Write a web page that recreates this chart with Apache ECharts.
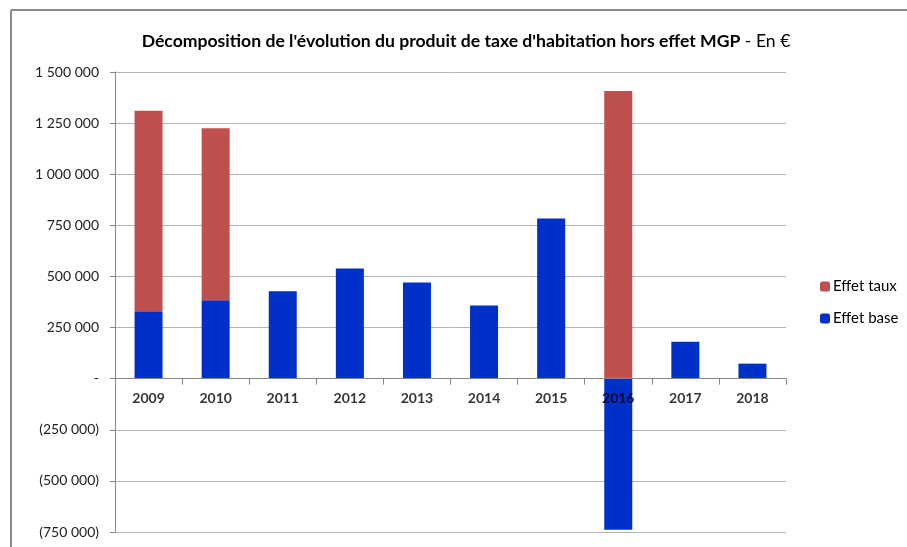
<!DOCTYPE html>
<html><head><meta charset="utf-8">
<script src="https://cdn.jsdelivr.net/npm/echarts@6/dist/echarts.min.js"></script>
<style>html,body{margin:0;padding:0;background:#fff}#c{width:907px;height:547px}</style>
</head><body><div id="c"></div>
<script>
const categories = ['2009','2010','2011','2012','2013','2014','2015','2016','2017','2018'];
const effetBase = [330000, 384000, 428000, 539000, 470000, 358000, 784000, -739000, 181000, 73500];
const effetTaux = [980000, 841000, null, null, null, null, null, 1407000, null, null];
const seriesNames = ['Effet taux', 'Effet base'];

function fmt(v){
  if (v === 0) return '-';
  const s = Math.abs(v).toString().replace(/\B(?=(\d{3})+(?!\d))/g, ' ');
  return v < 0 ? '(' + s + ')' : s;
}
const FONT = 'Lato';
const chart = echarts.init(document.getElementById('c'));
chart.setOption({
  animation: false,
  textStyle: { fontFamily: FONT },
  title: {
    text: '{b|Décomposition de l\'évolution du produit de taxe d\'habitation hors effet MGP}{n| - En €}',
    left: 461, top: 27, textAlign: 'center',
    textStyle: { rich: {
      b: { fontFamily: FONT, fontWeight: 'bold', fontSize: 17.6, color: '#000' },
      n: { fontFamily: FONT, fontWeight: 'normal', fontSize: 17.6, color: '#000' }
    }}
  },
  legend: {
    orient: 'vertical', left: 815, top: 274,
    itemWidth: 10, itemHeight: 10, itemGap: 17,
    textStyle: { fontFamily: FONT, fontSize: 15, color: '#000', padding: [0,0,0,-2] },
    data: seriesNames
  },
  grid: { left: 115, right: 121, top: 72, bottom: 15, containLabel: false, outerBoundsMode: 'none' },
  xAxis: {
    type: 'category', data: categories,
    axisLine: { onZero: true, lineStyle: { color: '#888' } },
    axisTick: { show: true, length: 6, lineStyle: { color: '#888' } },
    axisLabel: { show: false },
    z: 10
  },
  yAxis: {
    type: 'value', min: -750000, max: 1500000, interval: 250000,
    axisLine: { show: true, lineStyle: { color: '#888' } },
    axisTick: { show: true, length: 5, lineStyle: { color: '#888' } },
    axisLabel: { fontFamily: FONT, fontSize: 14, color: '#222', margin: 16, formatter: fmt },
    splitLine: { lineStyle: { color: '#b4b4b4' } }
  },
  graphic: [
    { type: 'line', shape: { x1: 11, y1: 10, x2: 907, y2: 10 }, style: { stroke: '#8a8a8a', lineWidth: 2 } },
    { type: 'line', shape: { x1: 11, y1: 10, x2: 11, y2: 547 }, style: { stroke: '#8a8a8a', lineWidth: 2 } }
  ],
  series: [
    { name: 'Effet base', type: 'bar', stack: 'a', data: effetBase, barWidth: 28, itemStyle: { color: '#0030C8' } },
    { name: 'Effet taux', type: 'bar', stack: 'a', data: effetTaux, barWidth: 28, itemStyle: { color: '#C0504D' } },
    { name: 'labels', type: 'scatter', symbolSize: 0, silent: true, z: 20,
      data: categories.map(c => [c, 0]),
      label: { show: true, position: 'bottom', distance: 13, formatter: p => p.data[0],
        fontFamily: FONT, fontWeight: 'bold', fontSize: 14, color: '#000' } }
  ]
});
</script></body></html>
